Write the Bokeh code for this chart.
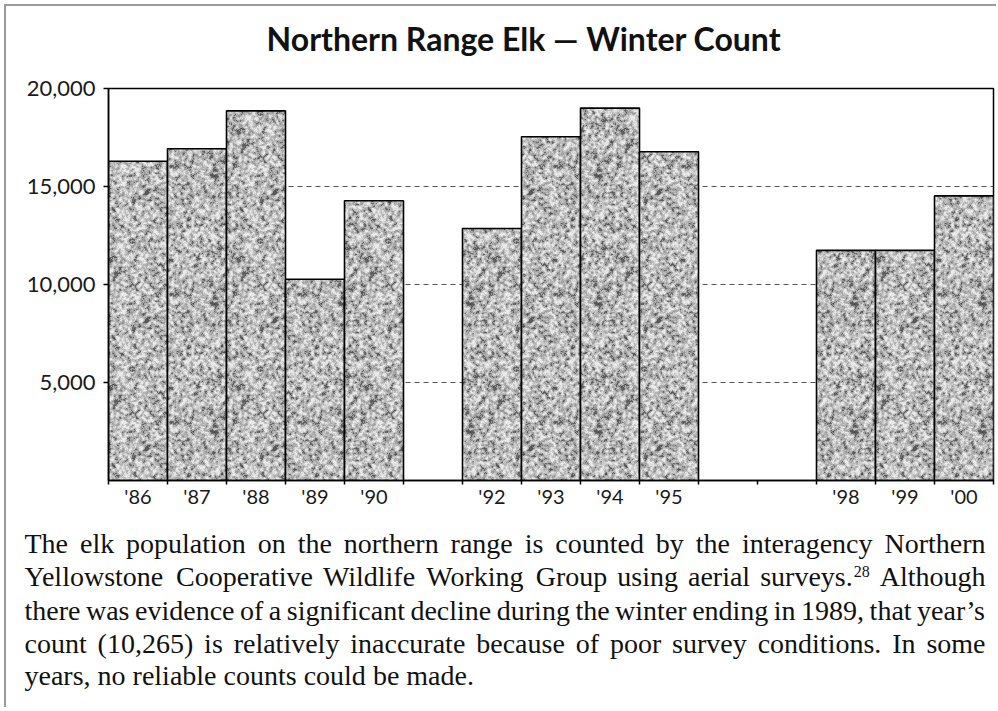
import zlib
import struct
import base64
import numpy as np
from bokeh.plotting import figure
from bokeh.layouts import column
from bokeh.models import (Range1d, FixedTicker, NumeralTickFormatter,
                          ColumnDataSource, ImageURLTexture)
from bokeh.core.properties import value
from bokeh.embed import file_html
from bokeh.resources import INLINE

# ---------------- data ----------------
years = ["'86", "'87", "'88", "'89", "'90", "'91", "'92", "'93",
         "'94", "'95", "'96", "'97", "'98", "'99", "'00"]
counts = [16286, 16925, 18860, 10265, 14270, None, 12859, 17540,
          19000, 16770, None, None, 11740, 11740, 14520]
y_ticks = [5000, 10000, 15000, 20000]
grid_values = [5000, 10000, 15000]
title_text = "Northern Range Elk \u2014 Winter Count"
caption_lines = [
    "The elk population on the northern range is counted by the interagency Northern",
    "Yellowstone Cooperative Wildlife Working Group using aerial surveys.^28 Although",
    "there was evidence of a significant decline during the winter ending in 1989, that year\u2019s",
    "count (10,265) is relatively inaccurate because of poor survey conditions. In some",
    "years, no reliable counts could be made.",
]

# ---------------- granite texture (style only) ----------------
N = 64


def hash2(x, y, seed):
    n = (x * np.uint64(374761393) + y * np.uint64(668265263) + np.uint64(seed * 144665)) & np.uint64(0xFFFFFFFF)
    n = ((n ^ (n >> np.uint64(13))) * np.uint64(1274126177)) & np.uint64(0xFFFFFFFF)
    n = n ^ (n >> np.uint64(16))
    return n.astype(np.float64) / 4294967295.0


yy, xx = np.mgrid[0:N, 0:N].astype(np.uint64)
r = hash2(xx, yy, 1)
r2 = np.kron(r, np.ones((2, 2)))
b = sum(np.roll(np.roll(r2, dy, 0), dx, 1) for dy in (-1, 0, 1) for dx in (-1, 0, 1)) / 9.0
yy2, xx2 = np.mgrid[0:2 * N, 0:2 * N].astype(np.uint64)
fine = hash2(xx2, yy2, 7)
g = 0.8 * b + 0.2 * fine
z = (g - g.mean()) / g.std()
gray = 186 + 30 * z
gray = np.where(z < -1.4, gray - 30, gray)
gray = np.clip(gray, 80, 235).astype(np.uint8)


def png_gray(arr):
    h, w = arr.shape
    raw = b"".join(b"\x00" + arr[row].tobytes() for row in range(h))

    def chunk(t, d):
        return struct.pack(">I", len(d)) + t + d + struct.pack(">I", zlib.crc32(t + d) & 0xFFFFFFFF)

    return (b"\x89PNG\r\n\x1a\n" + chunk(b"IHDR", struct.pack(">IIBBBBB", w, h, 8, 0, 0, 0, 0))
            + chunk(b"IDAT", zlib.compress(raw, 9)) + chunk(b"IEND", b""))


tex_url = "data:image/png;base64," + base64.b64encode(png_gray(gray)).decode("ascii")
texture = ImageURLTexture(url=tex_url, repetition="repeat")

# ---------------- layout (page pixels) ----------------
OX, OY = 6, 6
PAGE_W = 998
W = PAGE_W - OX
TITLE_BOTTOM = 60
CHART_BOTTOM = 515
CAPTION_BOTTOM = 707
FRAME = dict(left=108, right=993, top=88, bottom=480)
BASELINE_FIX = 0.34      # text glyph sits this many ems below the requested baseline


def text_fig(x0, x1, y0, y1, width):
    f = figure(width=width, height=y1 - y0, x_range=Range1d(x0, x1), y_range=Range1d(y1, y0),
               output_backend="svg", toolbar_location=None, min_border=0,
               x_axis_location=None, y_axis_location=None)
    f.grid.visible = False
    f.outline_line_color = None
    f.background_fill_color = "white"
    f.border_fill_color = "white"
    return f


# title (its frame is aligned with the chart frame inside the column)
TFS = 32
tf = text_fig(FRAME["left"], FRAME["right"], OY, TITLE_BOTTOM, W)
tf.min_border_left = FRAME["left"] - OX
tf.min_border_right = PAGE_W - FRAME["right"]
tf.text(x=[523.5], y=[49 - BASELINE_FIX * TFS], text=[title_text], text_align="center",
        text_baseline="alphabetic", text_font=value("Lato"), text_font_style="bold",
        text_font_size=f"{TFS}px", text_color="#111111")

# chart
p = figure(width=W, height=CHART_BOTTOM - TITLE_BOTTOM,
           x_range=Range1d(-0.5, len(years) - 0.5), y_range=Range1d(0, 20000),
           output_backend="svg", toolbar_location=None,
           min_border_left=FRAME["left"] - OX, min_border_right=PAGE_W - FRAME["right"],
           min_border_top=FRAME["top"] - TITLE_BOTTOM, min_border_bottom=CHART_BOTTOM - FRAME["bottom"])
p.background_fill_color = "white"
p.border_fill_color = "white"
p.outline_line_color = "black"
p.outline_line_width = 1.5

p.xgrid.visible = False
p.ygrid.ticker = FixedTicker(ticks=grid_values)
p.ygrid.grid_line_color = "#555555"
p.ygrid.grid_line_dash = "5 4"
p.ygrid.grid_line_width = 1

idx = [i for i, c in enumerate(counts) if c is not None]
src = ColumnDataSource(dict(x=idx, top=[counts[i] for i in idx], year=[years[i] for i in idx]))
p.vbar(x="x", top="top", bottom=0, width=1, source=src, fill_color="#b0b0b0",
       line_color="black", line_width=1.6,
       hatch_pattern=dict(value="granite"), hatch_extra={"granite": texture})

yax = p.yaxis[0]
yax.ticker = FixedTicker(ticks=y_ticks)
yax.formatter = NumeralTickFormatter(format="0,0")
yax.major_label_text_font = "Lato"
yax.major_label_text_font_size = "22px"
yax.major_label_text_color = "#1a1a1a"
yax.major_tick_out = 5
yax.major_tick_in = 0
yax.minor_tick_out = 0
yax.minor_tick_in = 0
yax.major_tick_line_width = 1.5
yax.axis_line_width = 1.5
yax.major_label_standoff = 8

xax = p.xaxis[0]
xax.ticker = FixedTicker(ticks=idx, minor_ticks=[i - 0.5 for i in range(len(years) + 1)])
xax.major_label_overrides = {i: years[i] for i in idx}
xax.major_tick_out = 0
xax.major_tick_in = 0
xax.major_tick_line_color = None
xax.minor_tick_out = 4
xax.minor_tick_in = 0
xax.minor_tick_line_color = "black"
xax.minor_tick_line_width = 1.5
xax.axis_line_width = 1.5
xax.major_label_standoff = -1
xax.major_label_text_font = "Lato"
xax.major_label_text_font_size = "20px"
xax.major_label_text_color = "#1a1a1a"

# caption: justified text, word widths from Times/Liberation Serif metrics
AFM = {" ": 250, "(": 333, ")": 333, ",": 250, ".": 250, "'": 180, "\u2019": 333}
for ch in "0123456789":
    AFM[ch] = 500
AFM.update(dict(zip("ABCDEFGHIJKLMNOPQRSTUVWXYZ",
                    [722, 667, 667, 722, 611, 556, 722, 722, 333, 389, 722, 611, 889,
                     722, 722, 556, 722, 667, 556, 611, 722, 722, 944, 722, 722, 611])))
AFM.update(dict(zip("abcdefghijklmnopqrstuvwxyz",
                    [444, 500, 444, 500, 444, 333, 500, 500, 278, 278, 500, 278, 778,
                     500, 500, 500, 500, 333, 389, 278, 500, 500, 722, 500, 500, 444])))


def tw(s, size):
    return sum(AFM.get(c, 500) for c in s) * size / 1000.0


FS, SUP_FS = 28, 16
X0, X1 = 24, 985
baselines = [553, 586, 620, 653, 685]
wx, wy, wt = [], [], []
sx_, sy_, st_ = [], [], []
for li, line in enumerate(caption_lines):
    toks = line.split(" ")
    widths = []
    for t in toks:
        if "^" in t:
            base_, sup = t.split("^")
            widths.append(tw(base_, FS) + 1 + tw(sup, SUP_FS))
        else:
            widths.append(tw(t, FS))
    gap = (X1 - X0 - sum(widths)) / (len(toks) - 1) if li < len(caption_lines) - 1 else 0.25 * FS
    x = X0
    yb = baselines[li] - BASELINE_FIX * FS
    for t, w in zip(toks, widths):
        if "^" in t:
            base_, sup = t.split("^")
            wx.append(x); wy.append(yb); wt.append(base_)
            sx_.append(x + tw(base_, FS) + 1)
            sy_.append(baselines[li] - 10 - BASELINE_FIX * SUP_FS)
            st_.append(sup)
        else:
            wx.append(x); wy.append(yb); wt.append(t)
        x += w + gap

cf = text_fig(OX, PAGE_W, CHART_BOTTOM, CAPTION_BOTTOM, W)
cf.text(x="x", y="y", text="text", source=ColumnDataSource(dict(x=wx, y=wy, text=wt)),
        text_font=value("Liberation Serif"), text_font_size=f"{FS}px", text_color="#111111",
        text_align="left", text_baseline="alphabetic")
cf.text(x="x", y="y", text="text", source=ColumnDataSource(dict(x=sx_, y=sy_, text=st_)),
        text_font=value("Liberation Serif"), text_font_size=f"{SUP_FS}px", text_color="#111111",
        text_align="left", text_baseline="alphabetic")
cf.styles = {"margin-left": f"{OX}px", "box-shadow": "-2px 0 0 0 #9a9a9a"}

top_part = column(tf, p, spacing=0,
                  styles={"margin-left": f"{OX}px", "margin-top": f"{OY}px",
                          "box-shadow": "-2px -2px 0 0 #9a9a9a, -2px 0 0 0 #9a9a9a"})

open("out.html", "w").write(file_html([top_part, cf], INLINE))
